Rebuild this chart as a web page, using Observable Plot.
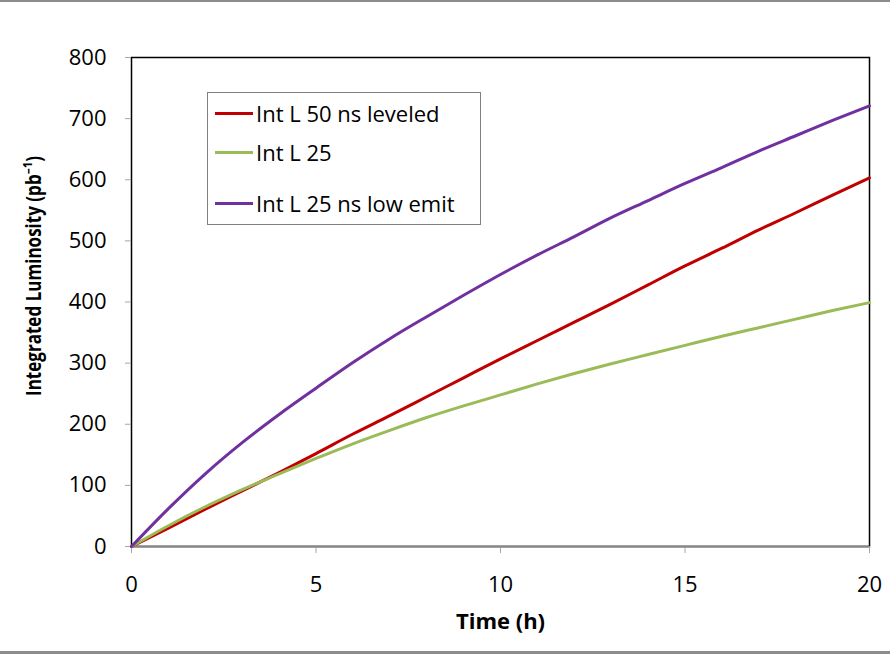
<!DOCTYPE html>
<html>
<head>
<meta charset="utf-8">
<script src="https://cdn.jsdelivr.net/npm/d3@7"></script>
<script src="https://cdn.jsdelivr.net/npm/@observablehq/plot@0.6"></script>
<style>
  html, body { margin: 0; padding: 0; background: #fff; }
  #wrap { position: relative; width: 890px; height: 654px; font-family: "Open Sans", "Noto Sans", sans-serif; }
  #topline { position: absolute; left: 0; top: 0; width: 890px; height: 2px; background: #8c8c8c; }
  #botline { position: absolute; left: 0; top: 651px; width: 890px; height: 3px; background: #8c8c8c; }
  #legend { position: absolute; left: 207px; top: 92px; width: 274px; height: 133px; border: 1px solid #808080; background: #fff; box-sizing: border-box; }
  .item { position: absolute; left: 7px; height: 30px; display: flex; align-items: center; font-size: 22px; color: #000; white-space: nowrap; }
  .sw { width: 38px; height: 3px; margin-right: 3px; }
</style>
</head>
<body>
<div id="wrap">
  <div id="chart"></div>
  <div id="topline"></div>
  <div id="botline"></div>
  <div id="legend"></div>
</div>
<script>
const hours = d3.range(0, 21);
const seriesNames = ["Int L 50 ns leveled", "Int L 25", "Int L 25 ns low emit"];
const seriesColors = ["#C00000", "#9BBB59", "#7030A0"];
const leveled50 = [0, 30, 61, 91, 121, 152, 184, 214, 245, 276, 307, 337, 367, 397, 428, 459, 488, 518, 546, 575, 603];
const int25 = [0, 34, 65, 93, 119, 144, 168, 190, 211, 230, 248, 266, 283, 299, 314, 329, 344, 358, 372, 386, 399];
const lowEmit25 = [0, 62, 119, 170, 216, 259, 301, 340, 376, 411, 445, 477, 507, 538, 566, 594, 620, 647, 672, 697, 721];
const xTicks = [0, 5, 10, 15, 20];
const yTicks = [0, 100, 200, 300, 400, 500, 600, 700, 800];
const xTitle = "Time (h)";
const yTitle = "Integrated Luminosity (pb⁻¹)";

const seriesValues = [leveled50, int25, lowEmit25];
const data = [];
seriesNames.forEach((name, i) => hours.forEach((h, j) => data.push({series: name, t: h, v: seriesValues[i][j]})));

const plot = Plot.plot({
  width: 890,
  height: 654,
  marginLeft: 131,
  marginRight: 21,
  marginTop: 57,
  marginBottom: 108,
  style: {fontFamily: "'Open Sans', 'Noto Sans', sans-serif", fontSize: "22px", color: "#000", background: "transparent"},
  x: {domain: [0, 20], ticks: xTicks},
  y: {domain: [0, 800], ticks: yTicks},
  color: {domain: seriesNames, range: seriesColors},
  marks: [
    Plot.frame({stroke: "#000", strokeWidth: 1.5}),
    Plot.axisX({ticks: xTicks, tickSize: 7, tickPadding: 23, stroke: "#a6a6a6", fontSize: 22, label: null}),
    Plot.axisY({ticks: yTicks, tickSize: 6, tickPadding: 19, stroke: "#a6a6a6", fontSize: 22, label: null}),
    Plot.ruleY([0], {stroke: "#868686", strokeWidth: 2}),
    Plot.line(data, {x: "t", y: "v", z: "series", stroke: "series", strokeWidth: 3, curve: "monotone-x"}),
    Plot.axisX({ticks: [], label: xTitle, labelAnchor: "center", labelArrow: "none", labelOffset: 82, fontSize: 22})
  ]
});
document.getElementById("chart").appendChild(plot);

// bold x title
d3.select(plot).selectAll("[aria-label='x-axis label'] text").attr("font-weight", "bold");

// y title, rotated and condensed to match the reference's narrow face
d3.select(plot).append("text")
  .attr("transform", "translate(33,276) rotate(-90)")
  .attr("text-anchor", "middle")
  .attr("dominant-baseline", "central")
  .attr("font-size", 21)
  .attr("font-weight", "bold")
  .attr("fill", "#000")
  .attr("textLength", 240)
  .attr("lengthAdjust", "spacingAndGlyphs")
  .text(yTitle);

const legend = document.getElementById("legend");
const tops = [5, 44, 95];
seriesNames.forEach((name, i) => {
  const it = document.createElement("div");
  it.className = "item";
  it.style.top = tops[i] + "px";
  const sw = document.createElement("div");
  sw.className = "sw";
  sw.style.background = seriesColors[i];
  const tx = document.createElement("span");
  tx.textContent = name;
  it.appendChild(sw); it.appendChild(tx);
  legend.appendChild(it);
});
</script>
</body>
</html>
